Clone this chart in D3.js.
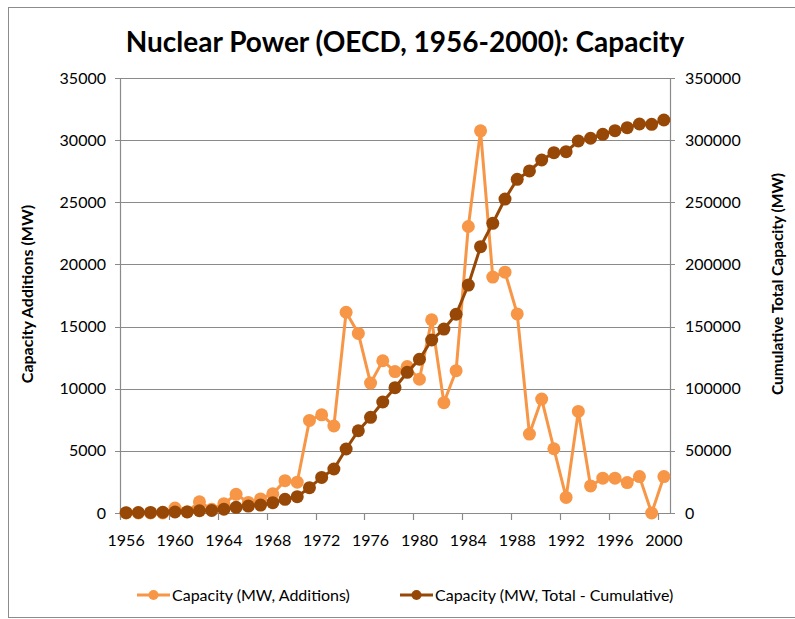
<!DOCTYPE html>
<html>
<head>
<meta charset="utf-8">
<script src="https://cdn.jsdelivr.net/npm/d3@7"></script>
<style>
  body { margin: 0; background: #fff; }
  text { font-family: Lato, "Open Sans", sans-serif; fill: #000; }
</style>
</head>
<body>
<div id="chart"></div>
<script>
// data
const years = [1956, 1957, 1958, 1959, 1960, 1961, 1962, 1963, 1964, 1965,
    1966, 1967, 1968, 1969, 1970, 1971, 1972, 1973, 1974, 1975,
    1976, 1977, 1978, 1979, 1980, 1981, 1982, 1983, 1984, 1985,
    1986, 1987, 1988, 1989, 1990, 1991, 1992, 1993, 1994, 1995,
    1996, 1997, 1998, 1999, 2000];

// Capacity (MW, Additions) - left axis
const additions = [0, 0, 0, 0, 400, 100, 900, 300, 750, 1500,
    850, 1130, 1550, 2600, 2480, 7450, 7900, 7000, 16150, 14450,
    10450, 12250, 11380, 11780, 10760, 15550, 8880, 11450, 23050, 30750,
    18980, 19380, 16020, 6350, 9170, 5170, 1250, 8170, 2180, 2800,
    2800, 2450, 2930, 0, 2930];

// Capacity (MW, Total - Cumulative) - right axis
const cumulative = [300, 400, 500, 600, 800, 900, 1800, 2000, 3000, 4600,
    5600, 6400, 8300, 11000, 13100, 20400, 28600, 35400, 51500, 66200,
    77000, 89300, 100800, 113200, 123700, 139200, 148000, 159900, 183400, 214300,
    233100, 252600, 268500, 275200, 284000, 289900, 290700, 299300, 301500, 304700,
    307600, 310000, 313000, 312700, 316200];

const leftTicks = [0, 5000, 10000, 15000, 20000, 25000, 30000, 35000];
const rightTicks = [0, 50000, 100000, 150000, 200000, 250000, 300000, 350000];
const yearLabels = [1956, 1960, 1964, 1968, 1972, 1976, 1980, 1984, 1988, 1992, 1996, 2000];

const title = 'Nuclear Power (OECD, 1956-2000): Capacity';
const leftLabel = 'Capacity Additions (MW)';
const rightLabel = 'Cumulative Total Capacity (MW)';
const seriesNames = ['Capacity (MW, Additions)', 'Capacity (MW, Total - Cumulative)'];

const W = 795, H = 619;
const plot = { left: 120, right: 670, top: 78, bottom: 513 };
const colors = ['#F79646', '#974806'];
const gridColor = '#8a8a8a';

const svg = d3.select('#chart').append('svg')
    .attr('width', W)
    .attr('height', H);

// outer frame
svg.append('rect')
    .attr('x', 8.5).attr('y', 7.5)
    .attr('width', W).attr('height', 610)
    .attr('fill', 'none')
    .attr('stroke', '#8c8c8c')
    .attr('stroke-width', 1);

const xScale = d3.scaleBand()
    .domain(years)
    .range([plot.left, plot.right])
    .padding(0);
const xc = d => xScale(d) + xScale.bandwidth() / 2;

const yLeft = d3.scaleLinear().domain([0, 35000]).range([plot.bottom, plot.top]);
const yRight = d3.scaleLinear().domain([0, 350000]).range([plot.bottom, plot.top]);

// gridlines
svg.append('g')
    .selectAll('line')
    .data(leftTicks.slice(1))
    .join('line')
    .attr('x1', plot.left - 5).attr('x2', plot.right + 5)
    .attr('y1', d => Math.round(yLeft(d)) + 0.5)
    .attr('y2', d => Math.round(yLeft(d)) + 0.5)
    .attr('stroke', gridColor)
    .attr('stroke-width', 1.2);

// axis lines
const axisG = svg.append('g').attr('stroke', gridColor).attr('stroke-width', 1.2);
axisG.append('line')
    .attr('x1', plot.left + 0.5).attr('x2', plot.left + 0.5)
    .attr('y1', plot.top).attr('y2', plot.bottom + 5);
axisG.append('line')
    .attr('x1', plot.right + 0.5).attr('x2', plot.right + 0.5)
    .attr('y1', plot.top).attr('y2', plot.bottom);
axisG.append('line')
    .attr('x1', plot.left - 5).attr('x2', plot.right + 5)
    .attr('y1', plot.bottom + 0.5).attr('y2', plot.bottom + 0.5);

// x tick marks at category boundaries, every 4 years
axisG.selectAll('.xtick')
    .data(yearLabels)
    .join('line')
    .attr('class', 'xtick')
    .attr('x1', d => Math.round(xScale(d)) + 0.5)
    .attr('x2', d => Math.round(xScale(d)) + 0.5)
    .attr('y1', plot.bottom)
    .attr('y2', plot.bottom + 7);

// tick labels
svg.append('g')
    .selectAll('text')
    .data(leftTicks)
    .join('text')
    .attr('x', 106)
    .attr('y', d => yLeft(d))
    .attr('dy', '0.35em')
    .attr('text-anchor', 'end')
    .style('font-size', '16px')
    .text(d => d);

svg.append('g')
    .selectAll('text')
    .data(rightTicks)
    .join('text')
    .attr('x', 685)
    .attr('y', d => yRight(d))
    .attr('dy', '0.35em')
    .attr('text-anchor', 'start')
    .style('font-size', '16px')
    .text(d => d);

svg.append('g')
    .selectAll('text')
    .data(yearLabels)
    .join('text')
    .attr('x', d => xc(d))
    .attr('y', 546)
    .attr('text-anchor', 'middle')
    .style('font-size', '16px')
    .text(d => d);

// titles
svg.append('text')
    .attr('x', 405)
    .attr('y', 52)
    .attr('text-anchor', 'middle')
    .style('font-size', '28px')
    .style('font-weight', 'bold')
    .text(title);

svg.append('text')
    .attr('transform', 'translate(33,294) rotate(-90)')
    .attr('text-anchor', 'middle')
    .style('font-size', '16px')
    .style('font-weight', 'bold')
    .text(leftLabel);

svg.append('text')
    .attr('transform', 'translate(783,284) rotate(-90)')
    .attr('text-anchor', 'middle')
    .style('font-size', '15.5px')
    .style('font-weight', 'bold')
    .text(rightLabel);

// series
const addData = years.map((y, i) => ({ year: y, v: additions[i] }));
const cumData = years.map((y, i) => ({ year: y, v: cumulative[i] }));

const drawSeries = (data, yScale, color) => {
    const line = d3.line()
        .x(d => xc(d.year))
        .y(d => yScale(d.v));
    const g = svg.append('g');
    g.append('path')
        .datum(data)
        .attr('d', line)
        .attr('fill', 'none')
        .attr('stroke', color)
        .attr('stroke-width', 3);
    g.selectAll('circle')
        .data(data)
        .join('circle')
        .attr('cx', d => xc(d.year))
        .attr('cy', d => yScale(d.v))
        .attr('r', 6.5)
        .attr('fill', color);
};

drawSeries(addData, yLeft, colors[0]);
drawSeries(cumData, yRight, colors[1]);

// legend
const legendItems = [
    { name: seriesNames[0], color: colors[0], x: 137 },
    { name: seriesNames[1], color: colors[1], x: 400 }
];
const legend = svg.append('g');
legendItems.forEach(item => {
    const g = legend.append('g').attr('transform', `translate(${item.x},595)`);
    g.append('line')
        .attr('x1', 0).attr('x2', 33)
        .attr('stroke', item.color)
        .attr('stroke-width', 3);
    g.append('circle')
        .attr('cx', 16.5)
        .attr('r', 5)
        .attr('fill', item.color);
    g.append('text')
        .attr('x', 35)
        .attr('dy', '0.35em')
        .style('font-size', '16px')
        .text(item.name);
});
</script>
</body>
</html>
